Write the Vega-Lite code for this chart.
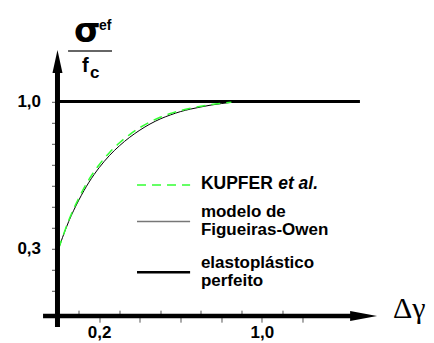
{
  "$schema": "https://vega.github.io/schema/vega-lite/v6.json",
  "autosize": {"type": "none"},
  "width": 325.44,
  "height": 263.375,
  "padding": {"left": 58.5, "top": 48.8, "right": 50.06, "bottom": 30.8},
  "background": "white",
  "config": {"view": {"stroke": null}, "axis": {"grid": false, "domain": false, "title": null}},
  "datasets": {
    "curves": [
      {"serie": "Figueiras-Owen", "x": 0, "y": 0.3},
      {"serie": "Figueiras-Owen", "x": 0.02, "y": 0.355},
      {"serie": "Figueiras-Owen", "x": 0.05, "y": 0.43},
      {"serie": "Figueiras-Owen", "x": 0.1, "y": 0.532},
      {"serie": "Figueiras-Owen", "x": 0.15, "y": 0.617},
      {"serie": "Figueiras-Owen", "x": 0.2, "y": 0.686},
      {"serie": "Figueiras-Owen", "x": 0.25, "y": 0.743},
      {"serie": "Figueiras-Owen", "x": 0.3, "y": 0.79},
      {"serie": "Figueiras-Owen", "x": 0.35, "y": 0.83},
      {"serie": "Figueiras-Owen", "x": 0.4, "y": 0.864},
      {"serie": "Figueiras-Owen", "x": 0.45, "y": 0.893},
      {"serie": "Figueiras-Owen", "x": 0.5, "y": 0.917},
      {"serie": "Figueiras-Owen", "x": 0.55, "y": 0.936},
      {"serie": "Figueiras-Owen", "x": 0.6, "y": 0.952},
      {"serie": "Figueiras-Owen", "x": 0.65, "y": 0.964},
      {"serie": "Figueiras-Owen", "x": 0.7, "y": 0.974},
      {"serie": "Figueiras-Owen", "x": 0.75, "y": 0.983},
      {"serie": "Figueiras-Owen", "x": 0.8, "y": 0.99},
      {"serie": "Figueiras-Owen", "x": 0.85, "y": 0.996},
      {"serie": "Figueiras-Owen", "x": 0.9, "y": 1.0},
      {"serie": "KUPFER", "x": 0, "y": 0.3},
      {"serie": "KUPFER", "x": 0.02, "y": 0.356},
      {"serie": "KUPFER", "x": 0.05, "y": 0.435},
      {"serie": "KUPFER", "x": 0.1, "y": 0.542},
      {"serie": "KUPFER", "x": 0.15, "y": 0.63},
      {"serie": "KUPFER", "x": 0.2, "y": 0.7},
      {"serie": "KUPFER", "x": 0.25, "y": 0.757},
      {"serie": "KUPFER", "x": 0.3, "y": 0.804},
      {"serie": "KUPFER", "x": 0.35, "y": 0.843},
      {"serie": "KUPFER", "x": 0.4, "y": 0.876},
      {"serie": "KUPFER", "x": 0.45, "y": 0.903},
      {"serie": "KUPFER", "x": 0.5, "y": 0.925},
      {"serie": "KUPFER", "x": 0.55, "y": 0.943},
      {"serie": "KUPFER", "x": 0.6, "y": 0.957},
      {"serie": "KUPFER", "x": 0.65, "y": 0.968},
      {"serie": "KUPFER", "x": 0.7, "y": 0.977},
      {"serie": "KUPFER", "x": 0.75, "y": 0.985},
      {"serie": "KUPFER", "x": 0.8, "y": 0.991},
      {"serie": "KUPFER", "x": 0.85, "y": 0.996},
      {"serie": "elastoplastico", "x": 0, "y": 1.0},
      {"serie": "elastoplastico", "x": 1.482, "y": 1.0}
    ],
    "one": [{}]
  },
  "layer": [
    {
      "data": {"name": "curves"},
      "transform": [{"filter": "datum.serie == 'elastoplastico'"}],
      "mark": {"type": "line", "color": "black", "strokeWidth": 3, "strokeCap": "butt"},
      "encoding": {
        "x": {"field": "x", "type": "quantitative", "scale": {"domain": [0, 1.6], "nice": false, "zero": false},
          "axis": {"orient": "bottom", "offset": 4, "values": [0.1, 0.2, 0.3, 0.4, 0.5, 0.6, 0.7, 0.8, 0.9, 1.0, 1.1, 1.2],
            "tickCount": 50,
            "tickSize": {"expr": "round(datum.value*10) % 2 == 1 ? -6 : 6"},
            "tickColor": "#555", "tickWidth": 1,
            "labelExpr": "abs(datum.value-0.2)<1e-6 ? '0,2' : (abs(datum.value-1)<1e-6 ? '1,0' : '')",
            "labelFont": "Liberation Sans", "labelFontWeight": "bold", "labelFontSize": 17, "labelColor": "black",
            "labelPadding": 2, "labelOverlap": false, "labelFlush": false}},
        "y": {"field": "y", "type": "quantitative", "scale": {"domain": [0, 1.25], "nice": false, "zero": false},
          "axis": {"orient": "left", "values": [0.1, 0.2, 0.3, 0.4, 0.5, 0.6, 0.7, 0.8, 0.9, 1.0],
            "tickCount": 50,
            "tickSize": 7, "tickColor": "#555", "tickWidth": 1,
            "labelExpr": "abs(datum.value-0.3)<1e-6 ? '0,3' : (abs(datum.value-1)<1e-6 ? '1,0' : '')",
            "labelFont": "Liberation Sans", "labelFontWeight": "bold", "labelFontSize": 17, "labelColor": "black",
            "labelPadding": 11, "labelOverlap": false, "labelFlush": false}}
      }
    },
    {
      "data": {"name": "curves"},
      "transform": [{"filter": "datum.serie == 'Figueiras-Owen'"}],
      "mark": {"type": "line", "color": "black", "strokeWidth": 1, "interpolate": "monotone"},
      "encoding": {"x": {"field": "x", "type": "quantitative"}, "y": {"field": "y", "type": "quantitative"}}
    },
    {
      "data": {"name": "curves"},
      "transform": [{"filter": "datum.serie == 'KUPFER'"}],
      "mark": {"type": "line", "color": "#33ff33", "strokeWidth": 1.5, "strokeDash": [9, 6], "interpolate": "monotone"},
      "encoding": {"x": {"field": "x", "type": "quantitative"}, "y": {"field": "y", "type": "quantitative"}}
    },
    {
      "data": {"name": "one"},
      "mark": {"type": "rule", "color": "black", "strokeWidth": 5},
      "encoding": {"x": {"datum": -0.005}, "y": {"datum": -0.07}, "y2": {"datum": 1.14}}
    },
    {
      "data": {"name": "one"},
      "mark": {"type": "rule", "color": "black", "strokeWidth": 4.5},
      "encoding": {"x": {"datum": -0.076}, "x2": {"datum": 1.443}, "y": {"datum": -0.018}}
    },
    {
      "data": {"name": "one"},
      "mark": {"type": "point", "shape": "M-0.435,1L0,-1L0.435,1Z", "filled": true, "color": "black", "opacity": 1, "size": 529, "strokeWidth": 0},
      "encoding": {"x": {"datum": -0.005}, "y": {"datum": 1.19}}
    },
    {
      "data": {"name": "one"},
      "mark": {"type": "point", "shape": "M-1,-0.37L1,0L-1,0.37Z", "filled": true, "color": "black", "opacity": 1, "size": 729, "strokeWidth": 0},
      "encoding": {"x": {"datum": 1.5}, "y": {"datum": -0.018}}
    },
    {
      "data": {"name": "one"},
      "mark": {"type": "text", "text": "σ", "font": "DejaVu Sans", "fontWeight": "bold", "fontSize": 34, "align": "left", "baseline": "alphabetic", "color": "black"},
      "encoding": {"x": {"datum": 0.076}, "y": {"datum": 1.284}}
    },
    {
      "data": {"name": "one"},
      "mark": {"type": "text", "text": "ef", "font": "Liberation Sans", "fontWeight": "bold", "fontSize": 14, "align": "left", "baseline": "alphabetic", "color": "black"},
      "encoding": {"x": {"datum": 0.199}, "y": {"datum": 1.339}}
    },
    {
      "data": {"name": "one"},
      "mark": {"type": "rule", "color": "#333", "strokeWidth": 1.5},
      "encoding": {"x": {"datum": 0.047}, "x2": {"datum": 0.263}, "y": {"datum": 1.24}}
    },
    {
      "data": {"name": "one"},
      "mark": {"type": "text", "text": "f", "font": "Liberation Sans", "fontWeight": "bold", "fontSize": 20, "align": "left", "baseline": "alphabetic", "color": "black"},
      "encoding": {"x": {"datum": 0.116}, "y": {"datum": 1.14}}
    },
    {
      "data": {"name": "one"},
      "mark": {"type": "text", "text": "c", "font": "Liberation Sans", "fontWeight": "bold", "fontSize": 17, "align": "left", "baseline": "alphabetic", "color": "black"},
      "encoding": {"x": {"datum": 0.155}, "y": {"datum": 1.112}}
    },
    {
      "data": {"name": "one"},
      "mark": {"type": "text", "text": "Δγ", "font": "Liberation Serif", "fontSize": 30, "align": "left", "baseline": "alphabetic", "color": "black"},
      "encoding": {"x": {"datum": 1.645}, "y": {"datum": -0.03}}
    },
    {
      "data": {"name": "one"},
      "mark": {"type": "rule", "color": "#33ff33", "strokeWidth": 1.5, "strokeDash": [9, 6]},
      "encoding": {"x": {"datum": 0.386}, "x2": {"datum": 0.647}, "y": {"datum": 0.604}}
    },
    {
      "data": {"name": "one"},
      "mark": {"type": "rule", "color": "#777", "strokeWidth": 1.5},
      "encoding": {"x": {"datum": 0.386}, "x2": {"datum": 0.647}, "y": {"datum": 0.43}}
    },
    {
      "data": {"name": "one"},
      "mark": {"type": "rule", "color": "black", "strokeWidth": 2.5},
      "encoding": {"x": {"datum": 0.386}, "x2": {"datum": 0.647}, "y": {"datum": 0.19}}
    },
    {
      "data": {"name": "one"},
      "mark": {"type": "text", "text": "KUPFER", "font": "Liberation Sans", "fontWeight": "bold", "fontSize": 17.5, "align": "left", "baseline": "middle", "color": "black"},
      "encoding": {"x": {"datum": 0.7}, "y": {"datum": 0.61}}
    },
    {
      "data": {"name": "one"},
      "mark": {"type": "text", "text": "et al.", "font": "Liberation Sans", "fontWeight": "bold", "fontStyle": "italic", "fontSize": 17.5, "align": "left", "baseline": "middle", "color": "black"},
      "encoding": {"x": {"datum": 1.08}, "y": {"datum": 0.61}}
    },
    {
      "data": {"name": "one"},
      "mark": {"type": "text", "text": ["modelo de", "Figueiras-Owen"], "font": "Liberation Sans", "fontWeight": "bold", "fontSize": 17, "lineHeight": 18.5, "align": "left", "baseline": "middle", "color": "black"},
      "encoding": {"x": {"datum": 0.7}, "y": {"datum": 0.4756}}
    },
    {
      "data": {"name": "one"},
      "mark": {"type": "text", "text": ["elastoplástico", "perfeito"], "font": "Liberation Sans", "fontWeight": "bold", "fontSize": 17, "lineHeight": 18.5, "align": "left", "baseline": "middle", "color": "black"},
      "encoding": {"x": {"datum": 0.7}, "y": {"datum": 0.2335}}
    }
  ]
}
